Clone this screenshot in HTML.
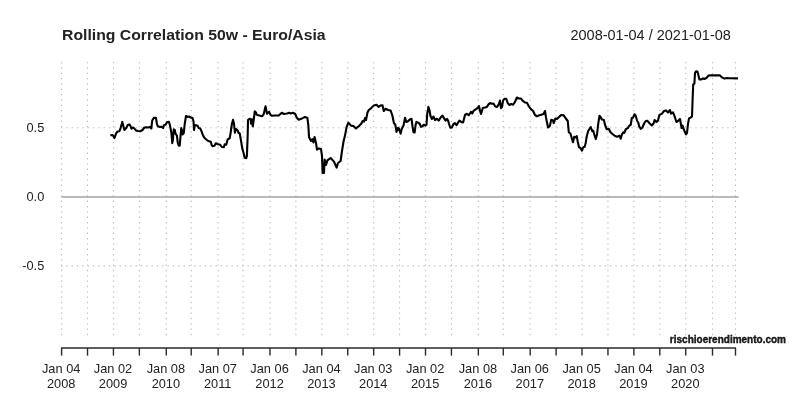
<!DOCTYPE html>
<html><head><meta charset="utf-8"><title>Rolling Correlation 50w - Euro/Asia</title>
<style>
html,body{margin:0;padding:0;background:#fff;}
body{width:800px;height:400px;overflow:hidden;font-family:"Liberation Sans",sans-serif;}
svg{display:block;will-change:transform;}
text{font-family:"Liberation Sans",sans-serif;fill:#222;}
</style></head><body>
<svg width="800" height="400" viewBox="0 0 800 400">
<g stroke="#bdbdbd" stroke-width="1.1" stroke-dasharray="1.33 4" fill="none"><line x1="61.60" y1="62" x2="61.60" y2="336"/><line x1="87.52" y1="62" x2="87.52" y2="336"/><line x1="113.44" y1="62" x2="113.44" y2="336"/><line x1="139.37" y1="62" x2="139.37" y2="336"/><line x1="166.28" y1="62" x2="166.28" y2="336"/><line x1="191.21" y1="62" x2="191.21" y2="336"/><line x1="218.13" y1="62" x2="218.13" y2="336"/><line x1="243.05" y1="62" x2="243.05" y2="336"/><line x1="269.97" y1="62" x2="269.97" y2="336"/><line x1="295.89" y1="62" x2="295.89" y2="336"/><line x1="321.82" y1="62" x2="321.82" y2="336"/><line x1="347.74" y1="62" x2="347.74" y2="336"/><line x1="373.66" y1="62" x2="373.66" y2="336"/><line x1="399.58" y1="62" x2="399.58" y2="336"/><line x1="425.50" y1="62" x2="425.50" y2="336"/><line x1="451.43" y1="62" x2="451.43" y2="336"/><line x1="478.35" y1="62" x2="478.35" y2="336"/><line x1="503.27" y1="62" x2="503.27" y2="336"/><line x1="530.19" y1="62" x2="530.19" y2="336"/><line x1="556.11" y1="62" x2="556.11" y2="336"/><line x1="582.03" y1="62" x2="582.03" y2="336"/><line x1="607.96" y1="62" x2="607.96" y2="336"/><line x1="633.88" y1="62" x2="633.88" y2="336"/><line x1="659.80" y1="62" x2="659.80" y2="336"/><line x1="685.72" y1="62" x2="685.72" y2="336"/><line x1="712.50" y1="62" x2="712.50" y2="336"/><line x1="735.50" y1="62" x2="735.50" y2="336"/>
<line x1="61" y1="127.7" x2="738" y2="127.7"/><line x1="61" y1="265.9" x2="738" y2="265.9"/></g>
<line x1="61.5" y1="197" x2="738.5" y2="197" stroke="#a2a2a2" stroke-width="1.4"/>
<path d="M110.25,135.25 L112.75,135.00 L114.40,138.10 L116.25,133.10 L117.50,131.50 L119.40,131.25 L120.60,128.10 L122.25,121.90 L123.10,125.00 L124.40,130.00 L126.25,128.10 L127.75,125.00 L129.40,124.40 L130.60,126.25 L131.50,128.75 L132.75,127.50 L134.00,128.10 L136.00,130.40 L138.10,131.00 L140.25,131.25 L142.50,130.00 L144.40,127.50 L146.25,127.25 L148.10,127.50 L150.00,126.90 L151.25,128.50 L152.25,120.60 L153.75,117.90 L156.00,117.90 L156.90,123.75 L157.75,126.25 L160.00,126.90 L161.90,126.90 L163.10,128.10 L164.00,125.00 L165.60,124.75 L166.90,122.25 L169.00,121.90 L170.00,125.60 L170.60,128.75 L171.50,133.75 L172.25,143.10 L172.90,140.00 L173.75,129.40 L174.75,130.00 L175.60,133.75 L176.90,135.60 L177.75,142.50 L178.75,145.60 L179.75,145.60 L180.40,137.50 L181.25,128.10 L181.90,130.00 L182.50,134.40 L183.75,133.10 L184.75,123.75 L186.00,116.00 L187.50,116.90 L189.00,116.50 L190.60,117.50 L192.50,118.10 L193.50,121.25 L194.00,130.00 L194.75,125.00 L196.25,125.25 L197.75,126.00 L198.75,128.10 L200.25,128.50 L201.50,131.25 L203.10,135.60 L204.40,137.75 L206.00,139.20 L208.25,141.00 L210.80,141.75 L211.70,145.20 L212.75,146.25 L214.50,145.80 L215.75,143.25 L218.00,144.30 L220.25,144.75 L221.75,147.00 L223.70,147.30 L224.75,144.30 L226.25,144.75 L227.75,139.20 L229.70,138.30 L230.75,132.00 L231.80,124.50 L233.00,119.70 L234.00,123.75 L234.90,132.75 L236.00,129.00 L237.50,130.20 L238.50,132.75 L239.75,133.50 L240.80,139.50 L242.30,148.50 L243.80,153.75 L244.70,157.80 L246.20,158.25 L246.90,156.00 L247.70,135.00 L248.00,120.00 L249.50,118.80 L250.70,119.25 L251.00,123.75 L252.00,119.25 L252.80,126.30 L253.70,120.00 L254.75,111.30 L255.80,112.20 L256.70,114.75 L259.25,115.50 L262.25,116.25 L263.75,114.00 L265.50,106.20 L267.00,113.70 L269.00,111.75 L270.50,114.75 L272.00,115.80 L274.25,115.50 L278.75,115.50 L281.75,112.80 L284.00,114.00 L287.00,113.55 L289.25,112.80 L290.75,113.55 L293.00,112.80 L295.25,114.00 L296.75,117.75 L298.70,119.70 L302.00,118.40 L305.00,117.00 L307.40,118.00 L308.40,126.00 L309.00,137.00 L311.00,141.00 L312.40,139.00 L313.40,142.40 L314.60,137.00 L316.00,143.00 L317.00,149.60 L319.00,148.40 L321.00,149.00 L322.00,156.00 L322.60,173.00 L324.00,173.00 L324.60,159.60 L326.00,165.00 L327.40,160.40 L330.60,158.00 L334.00,161.60 L336.60,167.60 L338.00,163.00 L340.60,161.00 L342.00,151.00 L343.60,141.00 L345.00,135.60 L346.60,127.00 L348.40,122.60 L351.00,125.60 L353.40,126.00 L356.00,128.40 L359.00,126.00 L361.40,123.60 L362.60,121.00 L364.00,121.60 L365.00,118.00 L366.00,120.00 L367.50,112.50 L368.75,110.00 L371.25,108.10 L373.75,105.60 L376.50,104.75 L378.50,106.90 L380.25,105.60 L382.50,105.25 L383.75,111.00 L385.60,108.75 L388.10,110.00 L390.60,110.60 L392.25,115.00 L394.00,123.50 L395.25,124.40 L396.50,131.90 L398.10,127.75 L399.00,128.50 L400.60,133.75 L401.90,128.50 L403.50,125.60 L405.00,117.75 L406.25,121.90 L408.10,121.25 L409.75,119.40 L411.50,118.75 L412.50,126.25 L413.50,132.25 L414.60,132.50 L415.60,125.00 L416.50,121.90 L418.10,122.75 L419.75,123.75 L421.00,126.90 L422.50,126.25 L423.75,124.75 L425.60,125.60 L426.50,124.75 L427.25,113.75 L428.40,106.90 L429.40,110.00 L430.60,116.25 L431.90,119.00 L433.40,116.50 L435.00,120.00 L436.90,118.75 L438.75,120.60 L440.60,117.50 L442.50,115.60 L444.00,118.10 L445.60,120.60 L446.90,118.75 L448.10,120.60 L449.00,123.75 L450.25,127.75 L451.90,127.50 L453.50,124.00 L455.00,123.10 L456.50,125.25 L457.75,123.10 L459.40,120.60 L461.25,121.90 L463.10,122.50 L465.00,115.00 L466.90,113.75 L468.75,115.25 L471.00,111.90 L472.25,113.50 L473.75,110.60 L475.60,109.40 L477.50,108.10 L479.00,106.00 L480.00,110.60 L481.00,114.00 L482.75,108.10 L485.00,107.50 L486.90,106.90 L488.50,104.40 L490.00,103.10 L491.90,103.75 L493.50,103.50 L495.25,106.50 L497.10,106.90 L498.75,104.40 L500.00,100.60 L501.00,108.10 L501.90,107.25 L503.10,100.60 L504.40,98.75 L506.25,98.75 L507.75,103.10 L509.40,105.00 L511.25,104.00 L513.10,104.75 L515.00,101.90 L516.90,97.50 L518.75,98.50 L521.00,98.50 L522.50,100.60 L525.00,102.50 L526.90,102.75 L528.75,106.25 L530.60,108.75 L533.10,111.00 L535.00,115.00 L536.90,116.25 L538.75,115.60 L541.25,114.75 L543.50,114.00 L545.00,111.00 L546.00,117.50 L547.10,123.10 L548.10,127.50 L549.75,126.25 L551.25,119.75 L552.75,120.25 L553.75,123.10 L555.25,118.50 L556.90,119.00 L558.75,117.25 L561.00,115.00 L563.70,115.30 L565.50,118.00 L567.75,121.00 L568.80,132.25 L570.30,133.30 L571.80,138.25 L573.00,142.30 L574.20,136.75 L575.70,137.50 L576.75,136.00 L577.80,142.00 L579.00,147.25 L580.50,148.00 L582.00,150.70 L583.20,147.25 L584.70,146.80 L585.75,142.75 L586.80,136.00 L588.30,130.75 L589.80,128.50 L590.70,127.00 L592.20,131.20 L593.25,130.75 L594.75,136.00 L595.80,139.00 L597.00,134.50 L598.20,124.00 L599.50,115.75 L600.75,117.25 L601.80,119.50 L603.75,119.80 L605.25,125.50 L606.75,129.25 L608.70,128.80 L610.50,132.25 L612.75,134.20 L615.00,136.00 L617.25,136.75 L619.50,135.70 L620.70,138.70 L622.00,134.20 L623.25,132.25 L624.30,133.00 L625.80,129.25 L627.75,128.20 L629.55,125.50 L630.75,124.75 L631.80,118.00 L633.00,117.70 L634.50,114.25 L635.70,115.75 L637.20,121.00 L638.25,122.50 L639.30,126.70 L640.80,128.80 L642.30,127.75 L644.25,123.25 L645.75,121.00 L647.25,120.70 L649.50,123.25 L651.75,125.50 L653.70,123.25 L654.60,120.00 L656.40,122.00 L658.00,120.40 L659.40,115.00 L662.00,113.60 L664.00,111.00 L666.00,110.40 L668.00,112.40 L670.00,110.00 L671.00,113.60 L673.00,112.40 L674.60,116.40 L676.40,122.00 L678.00,121.00 L680.00,119.00 L681.60,128.00 L682.60,125.60 L684.00,130.00 L686.00,134.40 L687.00,133.00 L688.00,124.00 L689.00,118.40 L690.60,117.60 L692.00,116.40 L692.60,100.00 L693.20,84.40 L694.40,83.60 L695.00,73.00 L696.00,71.40 L697.40,71.60 L698.40,75.00 L699.40,79.40 L701.40,79.40 L703.00,78.40 L704.40,79.00 L706.40,78.00 L708.40,75.60 L711.00,75.20 L720.00,75.40 L722.00,77.40 L724.40,78.60 L727.00,78.00 L729.00,78.20 L738.00,78.40" fill="none" stroke="#000" stroke-width="2.1" stroke-linejoin="round" stroke-linecap="butt"/>
<g stroke="#2a2a2a" stroke-width="1.4" fill="none"><line x1="61" y1="348" x2="736" y2="348"/><line x1="61.60" y1="348" x2="61.60" y2="355.6"/><line x1="87.52" y1="348" x2="87.52" y2="355.6"/><line x1="113.44" y1="348" x2="113.44" y2="355.6"/><line x1="139.37" y1="348" x2="139.37" y2="355.6"/><line x1="166.28" y1="348" x2="166.28" y2="355.6"/><line x1="191.21" y1="348" x2="191.21" y2="355.6"/><line x1="218.13" y1="348" x2="218.13" y2="355.6"/><line x1="243.05" y1="348" x2="243.05" y2="355.6"/><line x1="269.97" y1="348" x2="269.97" y2="355.6"/><line x1="295.89" y1="348" x2="295.89" y2="355.6"/><line x1="321.82" y1="348" x2="321.82" y2="355.6"/><line x1="347.74" y1="348" x2="347.74" y2="355.6"/><line x1="373.66" y1="348" x2="373.66" y2="355.6"/><line x1="399.58" y1="348" x2="399.58" y2="355.6"/><line x1="425.50" y1="348" x2="425.50" y2="355.6"/><line x1="451.43" y1="348" x2="451.43" y2="355.6"/><line x1="478.35" y1="348" x2="478.35" y2="355.6"/><line x1="503.27" y1="348" x2="503.27" y2="355.6"/><line x1="530.19" y1="348" x2="530.19" y2="355.6"/><line x1="556.11" y1="348" x2="556.11" y2="355.6"/><line x1="582.03" y1="348" x2="582.03" y2="355.6"/><line x1="607.96" y1="348" x2="607.96" y2="355.6"/><line x1="633.88" y1="348" x2="633.88" y2="355.6"/><line x1="659.80" y1="348" x2="659.80" y2="355.6"/><line x1="685.72" y1="348" x2="685.72" y2="355.6"/><line x1="712.50" y1="348" x2="712.50" y2="355.6"/><line x1="735.50" y1="348" x2="735.50" y2="355.6"/></g>
<text x="62" y="40" font-size="14.7" font-weight="bold" textLength="263.6" lengthAdjust="spacingAndGlyphs">Rolling Correlation 50w - Euro/Asia</text>
<text x="730.9" y="39.8" font-size="14.5" text-anchor="end">2008-01-04 / 2021-01-08</text>
<g font-size="12.8" text-anchor="end"><text x="44.3" y="132">0.5</text><text x="44.3" y="201">0.0</text><text x="44.3" y="270">-0.5</text></g>
<g font-size="12.8" text-anchor="middle"><text x="61.20" y="372.9">Jan 04</text><text x="61.20" y="387.8">2008</text><text x="113.04" y="372.9">Jan 02</text><text x="113.04" y="387.8">2009</text><text x="165.88" y="372.9">Jan 08</text><text x="165.88" y="387.8">2010</text><text x="217.73" y="372.9">Jan 07</text><text x="217.73" y="387.8">2011</text><text x="269.57" y="372.9">Jan 06</text><text x="269.57" y="387.8">2012</text><text x="321.42" y="372.9">Jan 04</text><text x="321.42" y="387.8">2013</text><text x="373.26" y="372.9">Jan 03</text><text x="373.26" y="387.8">2014</text><text x="425.11" y="372.9">Jan 02</text><text x="425.11" y="387.8">2015</text><text x="477.95" y="372.9">Jan 08</text><text x="477.95" y="387.8">2016</text><text x="529.79" y="372.9">Jan 06</text><text x="529.79" y="387.8">2017</text><text x="581.63" y="372.9">Jan 05</text><text x="581.63" y="387.8">2018</text><text x="633.48" y="372.9">Jan 04</text><text x="633.48" y="387.8">2019</text><text x="685.32" y="372.9">Jan 03</text><text x="685.32" y="387.8">2020</text></g>
<text x="786" y="342.6" font-size="10" font-weight="bold" text-anchor="end" fill="#000" stroke="#000" stroke-width="0.35">rischioerendimento.com</text>
</svg>
</body></html>
